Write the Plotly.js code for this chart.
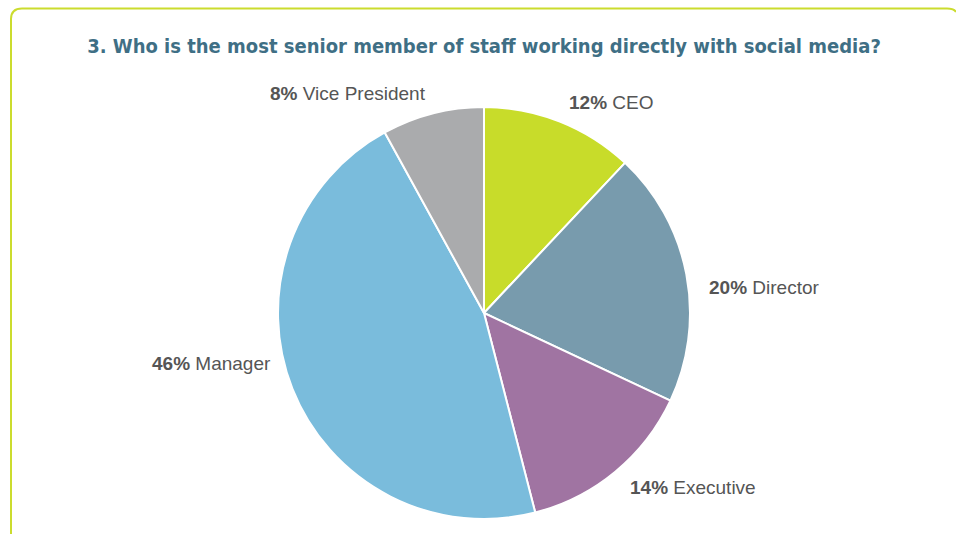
<!DOCTYPE html>
<html>
<head>
<meta charset="utf-8">
<script src="https://cdn.plot.ly/plotly-3.0.1.min.js"></script>
<style>
html,body{margin:0;padding:0;background:#fff;}
#chart{width:956px;height:536px;}
</style>
</head>
<body>
<div id="chart"></div>
<script>
const categories = ["CEO", "Director", "Executive", "Manager", "Vice President"];
const shares = [12, 20, 14, 46, 8];
const sliceColors = ["#c8dc2a", "#789bad", "#a074a2", "#7abcdc", "#aaabad"];
const titleText = "3. Who is the most senior member of staff working directly with social media?";

const W = 956, H = 536;
function px(x){ return x / W; }
function py(y){ return 1 - y / H; }

// pie geometry (pixels)
const cx = 484, cy = 313, r = 206;

const border = "M " + px(11) + "," + py(534) +
  " L " + px(11) + "," + py(19) +
  " Q " + px(11) + "," + py(8.5) + " " + px(22) + "," + py(8.5) +
  " L " + px(947) + "," + py(8.5) +
  " Q " + px(954) + "," + py(8.5) + " " + px(956) + "," + py(12);

const trace = {
  type: "pie",
  labels: categories,
  values: shares,
  sort: false,
  direction: "clockwise",
  rotation: 0,
  marker: { colors: sliceColors, line: { color: "#ffffff", width: 2 } },
  textinfo: "none",
  hoverinfo: "label+percent",
  domain: { x: [px(cx - r), px(cx + r)], y: [py(cy + r), py(cy - r)] },
  showlegend: false
};

// label annotations placed at each slice's mid-angle, outside the pie
const total = shares.reduce((a, b) => a + b, 0);
const annotations = [];
let cum = 0;
categories.forEach((cat, i) => {
  const mid = (cum + shares[i] / 2) / total * 2 * Math.PI;
  cum += shares[i];
  const R = r * 1.1;
  const sx = Math.sin(mid), cyv = Math.cos(mid);
  const x = cx + R * sx;
  const y = cy - R * cyv * (Math.abs(cyv) < 0.5 ? 0.6 : 1) ;
  annotations.push({
    xref: "paper", yref: "paper",
    x: px(x), y: py(y),
    xanchor: sx >= 0 ? "left" : "right",
    yanchor: "middle",
    showarrow: false,
    text: "<b>" + shares[i] + "%</b> " + cat,
    font: { family: "Liberation Sans, Arial, sans-serif", size: 19, color: "#555555" }
  });
});

const layout = {
  width: W, height: H,
  margin: { l: 0, r: 0, t: 0, b: 0 },
  paper_bgcolor: "#ffffff",
  plot_bgcolor: "#ffffff",
  showlegend: false,
  title: {
    text: "<b>" + titleText + "</b>",
    font: { family: "DejaVu Sans Condensed, DejaVu Sans, sans-serif", size: 20, color: "#3f6f85" },
    x: px(484), xanchor: "center",
    y: py(46), yanchor: "middle",
    xref: "paper", yref: "paper"
  },
  annotations: annotations,
  shapes: [{
    type: "path", xref: "paper", yref: "paper", path: border,
    line: { color: "#cbdc2e", width: 2 }
  }]
};

Plotly.newPlot("chart", [trace], layout, { displayModeBar: false, staticPlot: true });
</script>
</body>
</html>
